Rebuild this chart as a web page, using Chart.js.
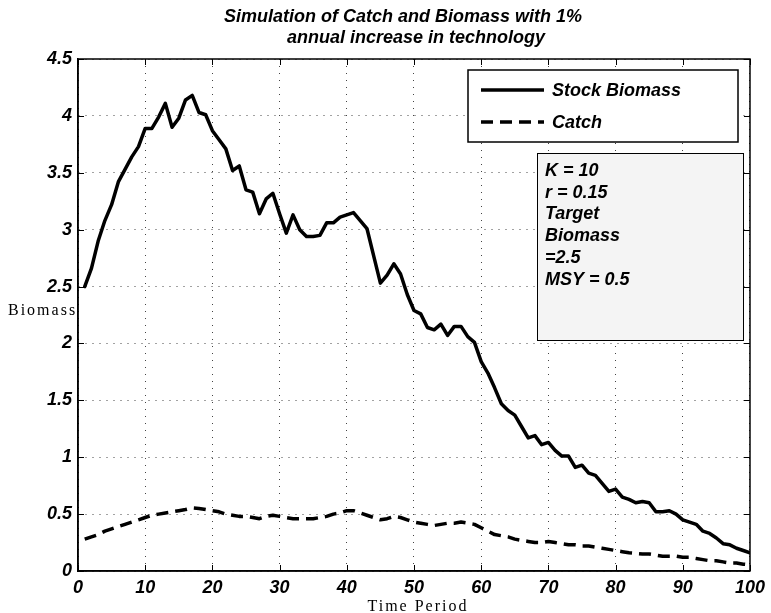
<!DOCTYPE html>
<html><head><meta charset="utf-8">
<script src="https://cdn.jsdelivr.net/npm/chart.js@4.4.1/dist/chart.umd.min.js"></script>
<style>html,body{margin:0;padding:0;background:#fff}#wrap{width:771px;height:613px}</style>
</head><body><div id="wrap"><canvas id="c" width="771" height="613"></canvas></div>
<script>
const periods = Array.from({length: 100}, (_, i) => i + 1);
const stockBiomass = [
  2.50, 2.66, 2.90, 3.08, 3.22, 3.42, 3.53, 3.64, 3.73, 3.89,
  3.89, 3.99, 4.11, 3.90, 3.98, 4.14, 4.18, 4.03, 4.01, 3.87,
  3.79, 3.71, 3.52, 3.56, 3.35, 3.33, 3.14, 3.27, 3.32, 3.14,
  2.97, 3.13, 3.00, 2.94, 2.94, 2.95, 3.06, 3.06, 3.11, 3.13,
  3.15, 3.08, 3.01, 2.77, 2.53, 2.60, 2.70, 2.61, 2.43, 2.29,
  2.26, 2.14, 2.12, 2.17, 2.07, 2.15, 2.15, 2.06, 2.01, 1.84,
  1.74, 1.61, 1.47, 1.41, 1.37, 1.27, 1.17, 1.19, 1.11, 1.13,
  1.06, 1.01, 1.01, 0.91, 0.93, 0.86, 0.84, 0.77, 0.70, 0.72,
  0.65, 0.63, 0.60, 0.61, 0.60, 0.52, 0.52, 0.53, 0.50, 0.45,
  0.43, 0.41, 0.35, 0.33, 0.29, 0.24, 0.23, 0.20, 0.18, 0.16
];
const catchValues = [
  0.28, 0.30, 0.32, 0.35, 0.37, 0.39, 0.41, 0.43, 0.45, 0.47,
  0.49, 0.50, 0.51, 0.52, 0.53, 0.54, 0.555, 0.55, 0.54, 0.53,
  0.52, 0.50, 0.49, 0.48, 0.48, 0.47, 0.46, 0.48, 0.49, 0.48,
  0.47, 0.46, 0.46, 0.46, 0.46, 0.47, 0.48, 0.50, 0.51, 0.53,
  0.53, 0.51, 0.49, 0.47, 0.45, 0.46, 0.48, 0.47, 0.45, 0.43,
  0.42, 0.41, 0.40, 0.41, 0.42, 0.42, 0.43, 0.42, 0.41, 0.38,
  0.35, 0.32, 0.31, 0.30, 0.28, 0.27, 0.26, 0.25, 0.25, 0.26,
  0.25, 0.24, 0.23, 0.23, 0.22, 0.22, 0.21, 0.20, 0.19, 0.18,
  0.17, 0.16, 0.155, 0.15, 0.15, 0.14, 0.13, 0.13, 0.13, 0.12,
  0.12, 0.11, 0.10, 0.09, 0.09, 0.08, 0.07, 0.07, 0.06, 0.055
];
const xTicks = [0, 10, 20, 30, 40, 50, 60, 70, 80, 90, 100];
const yTicks = [0, 0.5, 1, 1.5, 2, 2.5, 3, 3.5, 4, 4.5];
const seriesLabels = ["Stock Biomass", "Catch"];
const titleLines = ["Simulation of Catch and Biomass with 1%", "annual increase in technology"];
const paramLines = ["K = 10", "r = 0.15", "Target", "Biomass", "=2.5", "MSY = 0.5"];
const xAxisTitle = "Time Period";
const yAxisTitle = "Biomass";

const SANS = '"Liberation Sans", Arial, sans-serif';
const SERIF = '"Liberation Serif", "Times New Roman", serif';

const decor = {
  id: 'decor',
  beforeDraw(chart) {
    const ctx = chart.ctx;
    ctx.save();
    ctx.fillStyle = '#fff';
    ctx.fillRect(0, 0, chart.width, chart.height);
    ctx.restore();
  },
  afterDatasetsDraw(chart) {
    const ctx = chart.ctx;
    const a = chart.chartArea;
    const xs = chart.scales.x, ys = chart.scales.y;
    ctx.save();
    // frame
    ctx.strokeStyle = '#000';
    ctx.lineWidth = 1.5;
    ctx.strokeRect(a.left, a.top, a.right - a.left, a.bottom - a.top);
    // inward ticks on all sides
    ctx.lineWidth = 1;
    ctx.beginPath();
    xTicks.forEach(v => {
      const p = Math.round(xs.getPixelForValue(v)) + 0.5;
      ctx.moveTo(p, a.bottom); ctx.lineTo(p, a.bottom - 6);
      ctx.moveTo(p, a.top); ctx.lineTo(p, a.top + 6);
    });
    yTicks.forEach(v => {
      const p = Math.round(ys.getPixelForValue(v)) + 0.5;
      ctx.moveTo(a.left, p); ctx.lineTo(a.left + 6, p);
      ctx.moveTo(a.right, p); ctx.lineTo(a.right - 6, p);
    });
    ctx.stroke();

    // legend box
    const lx = 468, ly = 70, lw = 270, lh = 72;
    ctx.fillStyle = '#fff';
    ctx.fillRect(lx, ly, lw, lh);
    ctx.strokeStyle = '#000';
    ctx.lineWidth = 1.5;
    ctx.strokeRect(lx, ly, lw, lh);
    const rows = [90, 122];
    chart.data.datasets.forEach((ds, i) => {
      const y = rows[i];
      ctx.save();
      ctx.strokeStyle = ds.borderColor;
      ctx.lineWidth = ds.borderWidth;
      ctx.setLineDash(ds.borderDash || []);
      ctx.beginPath();
      ctx.moveTo(481, y); ctx.lineTo(544, y);
      ctx.stroke();
      ctx.restore();
      ctx.fillStyle = '#000';
      ctx.font = 'italic bold 18px ' + SANS;
      ctx.textAlign = 'left';
      ctx.textBaseline = 'middle';
      ctx.fillText(ds.label, 552, y + 1);
    });

    // parameter text box
    ctx.fillStyle = '#f4f4f4';
    ctx.fillRect(537, 153, 206, 187);
    ctx.strokeStyle = '#000';
    ctx.lineWidth = 1;
    ctx.strokeRect(537.5, 153.5, 206, 187);
    ctx.fillStyle = '#000';
    ctx.font = 'italic bold 18px ' + SANS;
    ctx.textAlign = 'left';
    ctx.textBaseline = 'alphabetic';
    paramLines.forEach((t, i) => ctx.fillText(t, 545, 176 + i * 21.7));
    ctx.restore();
  },
  afterDraw(chart) {
    const ctx = chart.ctx;
    ctx.save();
    ctx.fillStyle = '#000';
    ctx.textBaseline = 'alphabetic';
    ctx.textAlign = 'center';
    ctx.font = 'italic bold 18px ' + SANS;
    ctx.fillText(titleLines[0], 403, 22);
    ctx.fillText(titleLines[1], 416, 43);
    ctx.font = '16px ' + SERIF;
    try { ctx.letterSpacing = '2px'; } catch (e) {}
    ctx.fillText(xAxisTitle, 418, 611);
    ctx.textAlign = 'left';
    ctx.fillText(yAxisTitle, 8, 315);
    ctx.restore();
  }
};

new Chart(document.getElementById('c'), {
  type: 'line',
  data: {
    datasets: [
      {
        label: seriesLabels[0],
        data: periods.map((t, i) => ({x: t, y: stockBiomass[i]})),
        borderColor: '#000', borderWidth: 3.5, pointRadius: 0, tension: 0,
        borderJoinStyle: 'round', borderCapStyle: 'round', fill: false
      },
      {
        label: seriesLabels[1],
        data: periods.map((t, i) => ({x: t, y: catchValues[i]})),
        borderColor: '#000', borderWidth: 3.5, borderDash: [12, 7], pointRadius: 0, tension: 0,
        borderJoinStyle: 'round', fill: false
      }
    ]
  },
  options: {
    responsive: false,
    devicePixelRatio: 1,
    animation: false,
    layout: {padding: {top: 59, right: 19, left: 0, bottom: 0}},
    plugins: {legend: {display: false}, title: {display: false}, tooltip: {enabled: false}},
    scales: {
      x: {
        type: 'linear', min: 0, max: 100,
        afterBuildTicks: s => { s.ticks = xTicks.map(v => ({value: v})); },
        afterFit: s => { s.height = 42; },
        ticks: {
          color: '#000', padding: 6, maxRotation: 0, autoSkip: false,
          font: {family: SANS, size: 18, style: 'italic', weight: 'bold'}
        },
        grid: {color: '#444', lineWidth: 1, drawTicks: false},
        border: {display: true, color: '#000', width: 1.5, dash: [1, 6]}
      },
      y: {
        min: 0, max: 4.5,
        afterBuildTicks: s => { s.ticks = yTicks.map(v => ({value: v})); },
        afterFit: s => { s.width = 78; },
        ticks: {
          color: '#000', padding: 6, callback: v => String(v),
          font: {family: SANS, size: 18, style: 'italic', weight: 'bold'}
        },
        grid: {color: '#444', lineWidth: 1, drawTicks: false},
        border: {display: true, color: '#000', width: 1.5, dash: [1, 6]}
      }
    }
  },
  plugins: [decor]
});
</script>
</body></html>
